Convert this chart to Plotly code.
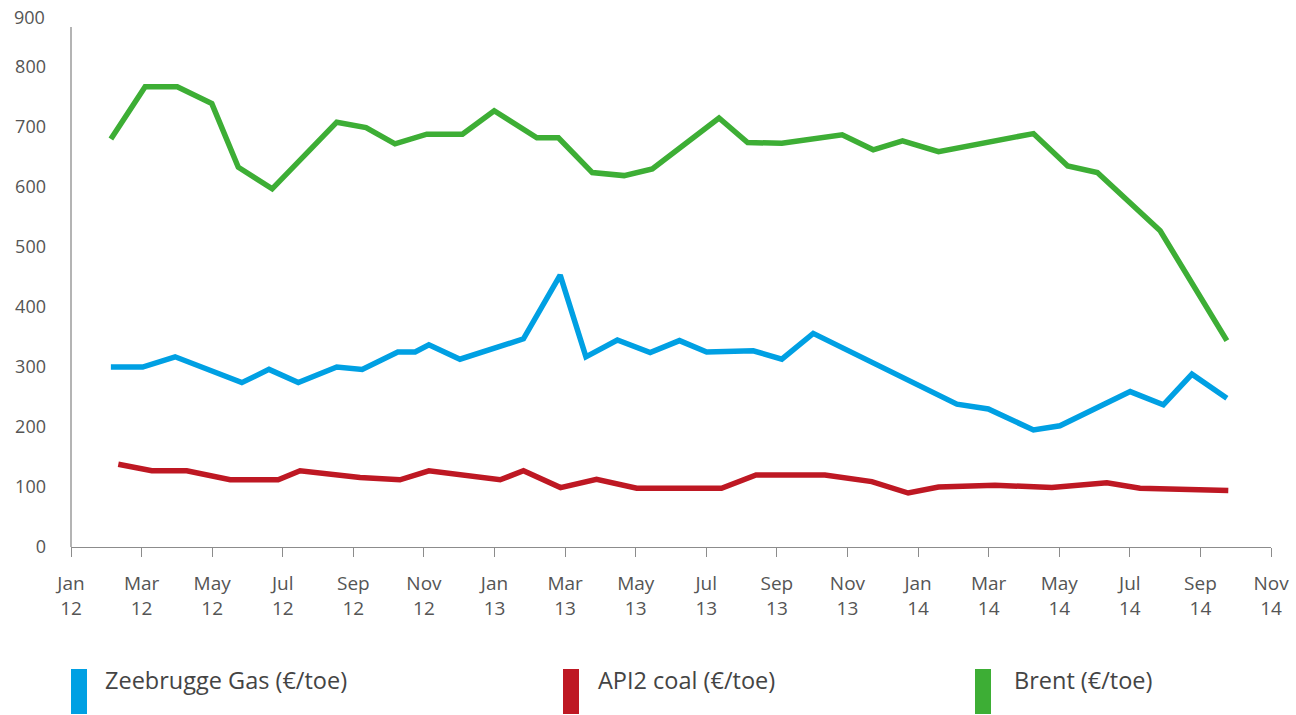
import plotly.graph_objects as go

# Month offsets from January 2012 (0 = Jan 12, 34 = Nov 14)
brent_x = [1.13, 2.10, 3.01, 3.99, 4.74, 5.70, 7.53, 8.36, 9.18, 10.08, 11.09, 11.99,
           13.20, 13.81, 14.77, 15.67, 16.47, 18.36, 19.17, 20.14, 21.85, 22.73, 23.56,
           24.58, 27.27, 28.24, 29.08, 30.86, 32.75]
brent_y = [680, 767, 767, 739, 633, 597, 708, 699, 672, 688, 688, 727,
           682, 682, 624, 619, 630, 715, 674, 673, 687, 662, 677,
           659, 689, 635, 624, 527, 344]

gas_x = [1.13, 2.03, 2.95, 4.84, 5.61, 6.44, 7.53, 8.25, 9.26, 9.75, 10.14, 11.02,
         12.82, 13.86, 14.59, 15.48, 16.41, 17.24, 18.01, 19.33, 20.14, 21.03,
         25.10, 25.99, 27.27, 28.02, 30.01, 30.95, 31.76, 32.75]
gas_y = [300, 300, 317, 274, 296, 274, 300, 296, 325, 325, 337, 313,
         347, 453, 317, 345, 324, 344, 325, 327, 313, 356,
         238, 230, 195, 202, 259, 237, 288, 248]

coal_x = [1.34, 2.29, 3.28, 4.51, 5.87, 6.49, 8.19, 9.32, 10.14, 12.16,
          12.82, 13.87, 14.89, 16.03, 18.43, 19.41, 21.36, 22.69, 23.72,
          24.58, 26.18, 27.79, 29.35, 30.29, 32.79]
coal_y = [138, 127, 127, 112, 112, 127, 116, 112, 127, 112,
          127, 99, 113, 98, 98, 120, 120, 109, 90,
          100, 103, 99, 107, 98, 94]

tick_months = list(range(0, 35, 2))
tick_labels = ["Jan<br>12", "Mar<br>12", "May<br>12", "Jul<br>12", "Sep<br>12", "Nov<br>12",
               "Jan<br>13", "Mar<br>13", "May<br>13", "Jul<br>13", "Sep<br>13", "Nov<br>13",
               "Jan<br>14", "Mar<br>14", "May<br>14", "Jul<br>14", "Sep<br>14", "Nov<br>14"]
y_ticks = [0, 100, 200, 300, 400, 500, 600, 700, 800]
y_top_label = 900

series_names = ["Zeebrugge Gas (€/toe)", "API2 coal (€/toe)", "Brent (€/toe)"]
series_colors = ["#00A0E3", "#BE1823", "#3DAE35"]

FONT = "Open Sans"
TEXT = "#555555"
AXIS = "#8c8c8c"

fig = go.Figure()
for name, xs, ys, col in zip(series_names, [gas_x, coal_x, brent_x],
                             [gas_y, coal_y, brent_y], series_colors):
    fig.add_trace(go.Scatter(x=xs, y=ys, mode="lines", name=name,
                             line=dict(color=col, width=5.5),
                             showlegend=False))

W, H = 1296, 715
ML, MR, MT, MB = 71, 25, 7, 168
PW, PH = W - ML - MR, H - MT - MB

def px_x(p):
    return (p - ML) / PW

def px_y(p):
    return (H - MB - p) / PH

shapes = [
    # vertical axis line (stops short of the top of the scale)
    dict(type="line", xref="paper", yref="y", x0=0, x1=0, y0=0, y1=866.7,
         line=dict(color=AXIS, width=1.3)),
]
# top scale label sits at the very edge of the plotting area
annotations = [
    dict(xref="paper", yref="y", x=0, y=y_top_label, text=str(y_top_label),
         showarrow=False, xanchor="right", yanchor="middle", xshift=-24, yshift=-10,
         font=dict(family=FONT, size=18, color=TEXT)),
]

# legend: coloured bars with labels underneath the chart
legend_pos = [(71, 103), (563, 596), (975, 1012)]
for (bx, tx), name, col in zip(legend_pos, series_names, series_colors):
    shapes.append(dict(type="rect", xref="paper", yref="paper",
                       x0=px_x(bx), x1=px_x(bx + 16), y0=px_y(669), y1=px_y(714),
                       fillcolor=col, line=dict(width=0)))
    annotations.append(dict(xref="paper", yref="paper", x=px_x(tx), y=px_y(680),
                            text=name, showarrow=False, xanchor="left", yanchor="middle",
                            font=dict(family=FONT, size=23.5, color="#444444")))

fig.update_layout(
    width=W, height=H,
    margin=dict(l=ML, r=MR, t=MT, b=MB),
    paper_bgcolor="white", plot_bgcolor="white",
    font=dict(family=FONT, color=TEXT, size=18),
    xaxis=dict(range=[0, 34], tickvals=tick_months, ticktext=tick_labels,
               showgrid=False, zeroline=False, showline=True, linecolor=AXIS, linewidth=1.3,
               ticks="outside", ticklen=9, tickcolor=AXIS, tickwidth=1.3,
               ticklabelstandoff=10,
               tickfont=dict(family=FONT, size=19, color=TEXT)),
    yaxis=dict(range=[0, 900], tickvals=y_ticks, showgrid=False, zeroline=False,
               showline=False, ticks="", ticklabelstandoff=24,
               tickfont=dict(family=FONT, size=18, color=TEXT)),
    shapes=shapes, annotations=annotations,
)

fig.write_html("out.html")
